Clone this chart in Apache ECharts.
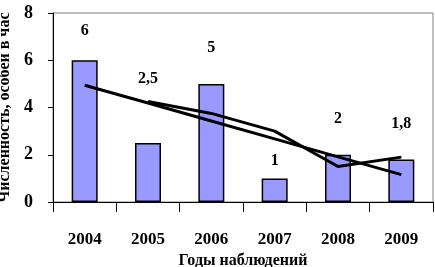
<!DOCTYPE html>
<html>
<head>
<meta charset="utf-8">
<script src="https://cdn.jsdelivr.net/npm/echarts@6/dist/echarts.min.js"></script>
<style>
  html, body { margin: 0; padding: 0; background: #fff; }
  #chart { width: 435px; height: 267px; }
</style>
</head>
<body>
<div id="chart"></div>
<script>
// years of observation
const years = ['2004', '2005', '2006', '2007', '2008', '2009'];
// counts per hour
const counts = [6, 2.5, 5, 1, 2, 1.8];
// linear trend
const trend = [4.94, 4.19, 3.43, 2.67, 1.91, 1.16];
// 2-period moving average
const movingAvg = [null, 4.25, 3.75, 3, 1.5, 1.9];
const yTicks = [0, 2, 4, 6, 8];

// label lift above each bar (Excel placed them by hand)
const labelLift = [21, 56, 28, 10, 28, 28];

const serif = '"Liberation Serif", "DejaVu Serif", serif';
const chart = echarts.init(document.getElementById('chart'));

const barData = counts.map(function (v, i) {
  return { value: v, label: { distance: labelLift[i] } };
});

chart.setOption({
  animation: false,
  grid: {
    left: 53, right: 2, top: 13, bottom: 65,
    outerBoundsMode: 'none',
    containLabel: false,
    show: true, borderColor: '#808080', borderWidth: 1, backgroundColor: 'transparent'
  },
  xAxis: {
    type: 'category',
    data: years,
    name: 'Годы наблюдений',
    nameLocation: 'middle',
    nameGap: 49,
    nameTextStyle: { fontFamily: serif, fontWeight: 'bold', fontSize: 16, color: '#000' },
    axisLine: { lineStyle: { color: '#000', width: 1 } },
    axisTick: { show: true, length: 10, interval: 0, lineStyle: { color: '#000' } },
    axisLabel: { margin: 29, fontFamily: serif, fontWeight: 'bold', fontSize: 17, color: '#000' },
    splitLine: { show: false }
  },
  yAxis: {
    type: 'value',
    min: yTicks[0],
    max: yTicks[yTicks.length - 1],
    interval: 2,
    name: 'Численность, особей в час',
    nameLocation: 'middle',
    nameRotate: 90,
    nameGap: 36,
    nameTextStyle: { fontFamily: serif, fontWeight: 'bold', fontSize: 16, color: '#000' },
    axisLine: { show: true, lineStyle: { color: '#000', width: 1 } },
    axisTick: { show: true, length: 5, lineStyle: { color: '#000' } },
    axisLabel: { margin: 20, fontFamily: serif, fontWeight: 'bold', fontSize: 18, color: '#000' },
    splitLine: { show: false }
  },
  series: [
    {
      type: 'bar',
      data: barData,
      barWidth: 26,
      itemStyle: { color: '#9999ff', borderColor: '#000', borderWidth: 1.5 },
      label: {
        show: true,
        position: 'top',
        fontFamily: serif,
        fontWeight: 'bold',
        fontSize: 16,
        color: '#000',
        formatter: function (p) { return String(p.value).replace('.', ','); }
      }
    },
    {
      type: 'line',
      data: trend,
      symbol: 'none',
      lineStyle: { color: '#000', width: 3 },
      z: 3
    },
    {
      type: 'line',
      data: movingAvg,
      symbol: 'none',
      lineStyle: { color: '#000', width: 3 },
      z: 3
    }
  ]
});
</script>
</body>
</html>
